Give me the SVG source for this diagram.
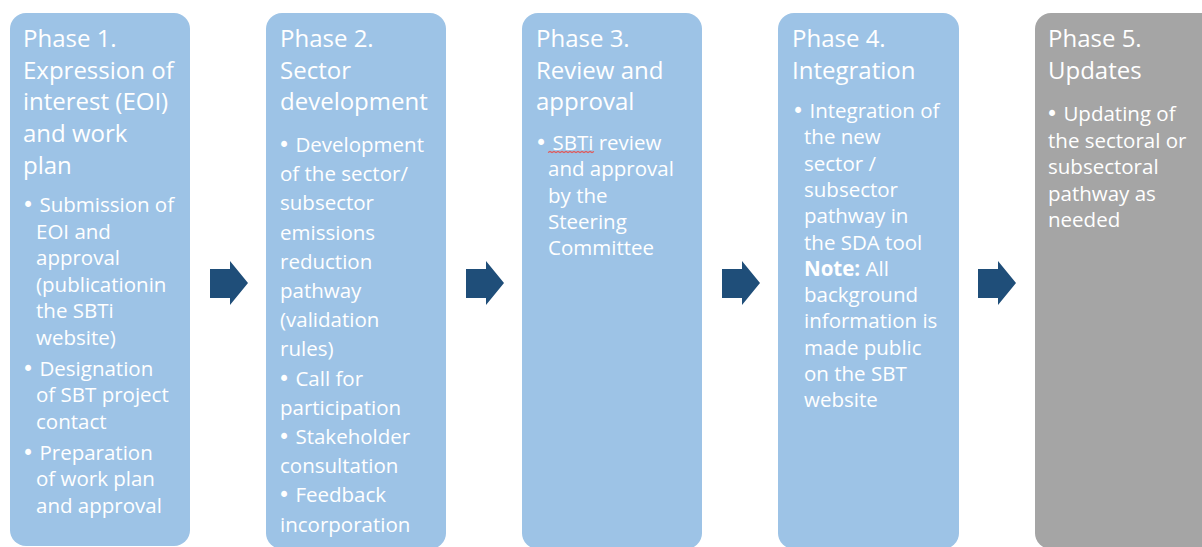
<svg xmlns="http://www.w3.org/2000/svg" width="1202" height="547" viewBox="0 0 1202 547">
<style>
.box{fill:#9DC3E6}
.box5{fill:#A5A5A5}
.t{font-family:"Open Sans","Liberation Sans",sans-serif;fill:#FFFFFF}
.h{font-size:24px}
.b{font-size:20.5px}
.bl{font-family:"DejaVu Sans",sans-serif}
.arrow{fill:#1F4E79}
</style>
<defs>
<polygon id="arr" points="0,8 20,8 20,0 38,22 20,44 20,37 0,37"/>
</defs>
<rect width="1202" height="547" fill="#FFFFFF"/>
<g id="phase1">
<rect class="box" x="10" y="13" width="180" height="533" rx="16"/>
<text class="t h" x="23" y="47">Phase 1.</text>
<text class="t h" x="23" y="78.7">Expression of</text>
<text class="t h" x="23" y="110.4">interest (EOI)</text>
<text class="t h" x="23" y="142.1">and work</text>
<text class="t h" x="23" y="173.8">plan</text>
<text class="t b" x="22" y="212"><tspan class="bl">•</tspan> Submission of</text>
<text class="t b" x="36" y="238.5">EOI and</text>
<text class="t b" x="36" y="265">approval</text>
<text class="t b" x="36" y="291.5">(publicationin</text>
<text class="t b" x="36" y="318">the SBTi</text>
<text class="t b" x="36" y="344.5">website)</text>
<text class="t b" x="22" y="375.5"><tspan class="bl">•</tspan> Designation</text>
<text class="t b" x="36" y="402">of SBT project</text>
<text class="t b" x="36" y="428.5">contact</text>
<text class="t b" x="22" y="459.5"><tspan class="bl">•</tspan> Preparation</text>
<text class="t b" x="36" y="486">of work plan</text>
<text class="t b" x="36" y="512.5">and approval</text>
</g>
<g id="phase2">
<rect class="box" x="266" y="13" width="180" height="536" rx="16"/>
<text class="t h" x="280" y="47">Phase 2.</text>
<text class="t h" x="280" y="78.7">Sector</text>
<text class="t h" x="280" y="110.4">development</text>
<text class="t b" x="278" y="152"><tspan class="bl">•</tspan> Development</text>
<text class="t b" x="280" y="181.2">of the sector/</text>
<text class="t b" x="280" y="210.4">subsector</text>
<text class="t b" x="280" y="239.6">emissions</text>
<text class="t b" x="280" y="268.8">reduction</text>
<text class="t b" x="280" y="298">pathway</text>
<text class="t b" x="280" y="327.2">(validation</text>
<text class="t b" x="280" y="356.4">rules)</text>
<text class="t b" x="278" y="385.6"><tspan class="bl">•</tspan> Call for</text>
<text class="t b" x="280" y="414.8">participation</text>
<text class="t b" x="278" y="444"><tspan class="bl">•</tspan> Stakeholder</text>
<text class="t b" x="280" y="473.2">consultation</text>
<text class="t b" x="278" y="502.4"><tspan class="bl">•</tspan> Feedback</text>
<text class="t b" x="280" y="531.6">incorporation</text>
</g>
<g id="phase3">
<rect class="box" x="522" y="13" width="180" height="536" rx="16"/>
<text class="t h" x="536" y="47">Phase 3.</text>
<text class="t h" x="536" y="78.7">Review and</text>
<text class="t h" x="536" y="110.4">approval</text>
<text class="t b" x="535" y="150"><tspan class="bl">•</tspan> SBTi review</text>
<path d="M548,152.5 l2,-1 l2,1 l2,-1 l2,1 l2,-1 l2,1 l2,-1 l2,1 l2,-1 l2,1 l2,-1 l2,1 l2,-1 l2,1 l2,-1 l2,1 l2,-1 l2,1 l2,-1 l2,1 l2,-1 l2,1 l2,-1" fill="none" stroke="#E05A5A" stroke-width="1.2"/>
<text class="t b" x="548" y="176.3">and approval</text>
<text class="t b" x="548" y="202.5">by the</text>
<text class="t b" x="548" y="228.8">Steering</text>
<text class="t b" x="548" y="255">Committee</text>
</g>
<g id="phase4">
<rect class="box" x="778" y="13" width="181" height="536" rx="16"/>
<text class="t h" x="792" y="47">Phase 4.</text>
<text class="t h" x="792" y="78.7">Integration</text>
<text class="t b" x="792" y="118"><tspan class="bl">•</tspan> Integration of</text>
<text class="t b" x="804" y="144.3">the new</text>
<text class="t b" x="804" y="170.6">sector /</text>
<text class="t b" x="804" y="196.9">subsector</text>
<text class="t b" x="804" y="223.2">pathway in</text>
<text class="t b" x="804" y="249.5">the SDA tool</text>
<text class="t b" x="804" y="275.8"><tspan font-weight="bold">Note:</tspan> All</text>
<text class="t b" x="804" y="302.1">background</text>
<text class="t b" x="804" y="328.4">information is</text>
<text class="t b" x="804" y="354.7">made public</text>
<text class="t b" x="804" y="381">on the SBT</text>
<text class="t b" x="804" y="407.3">website</text>
</g>
<g id="phase5">
<rect class="box5" x="1035" y="13" width="190" height="536" rx="16"/>
<text class="t h" x="1048" y="47">Phase 5.</text>
<text class="t h" x="1048" y="78.7">Updates</text>
<text class="t b" x="1046" y="121"><tspan class="bl">•</tspan> Updating of</text>
<text class="t b" x="1048" y="147.5">the sectoral or</text>
<text class="t b" x="1048" y="174">subsectoral</text>
<text class="t b" x="1048" y="200.5">pathway as</text>
<text class="t b" x="1048" y="227">needed</text>
</g>
<g id="connectors">
<use href="#arr" class="arrow" x="210" y="261"/>
<use href="#arr" class="arrow" x="466" y="261"/>
<use href="#arr" class="arrow" x="722" y="261"/>
<use href="#arr" class="arrow" x="978" y="261"/>
</g>
</svg>
